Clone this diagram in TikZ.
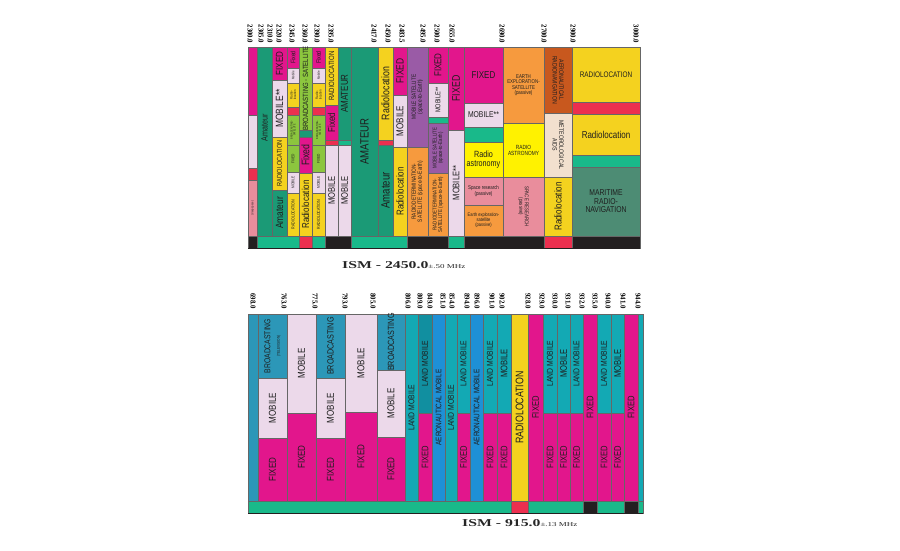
\documentclass[tikz,border=0pt]{standalone}
\usepackage{fontspec}
\newfontfamily\nar[FakeStretch=0.8]{Liberation Sans}
\newfontfamily\frqf[FakeStretch=0.9]{Liberation Serif}
\newfontfamily\ismf[FakeStretch=1.5]{Liberation Serif}
\definecolor{fixc}{HTML}{E2168C}
\definecolor{mobc}{HTML}{ECD9EA}
\definecolor{amc}{HTML}{1B9A76}
\definecolor{stc}{HTML}{19B98A}
\definecolor{redc}{HTML}{EC2F4F}
\definecolor{yelc}{HTML}{F4D21F}
\definecolor{ylwc}{HTML}{FFF200}
\definecolor{pinkc}{HTML}{E98D9C}
\definecolor{orgc}{HTML}{F69A3E}
\definecolor{purc}{HTML}{9A5BA6}
\definecolor{brnc}{HTML}{C8581E}
\definecolor{beic}{HTML}{F2E0CE}
\definecolor{marc}{HTML}{4D8C74}
\definecolor{grnc}{HTML}{8CC63E}
\definecolor{bcc}{HTML}{2C97B8}
\definecolor{lmc}{HTML}{13A9B4}
\definecolor{lmdc}{HTML}{118FA0}
\definecolor{aerc}{HTML}{1E90D6}
\definecolor{blkc}{HTML}{231F20}
\definecolor{txtc}{HTML}{1E1E1E}
\tikzset{
  cell/.style={draw=black!60, line width=0.35pt},
  lab/.style={text=txtc, align=center, inner sep=0pt, font=\nar\fontsize{9}{9}\selectfont},
  fs/.style={font=\nar\fontsize{#1}{#1}\selectfont},
  up/.style={rotate=90},
  dn/.style={rotate=-90},
  frq/.style={rotate=-90, text=black, inner sep=0pt, font=\frqf\bfseries\fontsize{7.5}{7.5}\selectfont},
  ism/.style={anchor=west, text=black!85, inner sep=0pt, font=\ismf\bfseries\fontsize{10.5}{10.5}\selectfont},
}
\newcommand\Cl[7]{%
  \filldraw[cell,fill=#5] (#1,#2) rectangle (#3,#4);
  \node[lab,#7] at ({(#1+#3)/2},{(#2+#4)/2}) {#6};}
\begin{document}
\begin{tikzpicture}[x=1pt,y=-1pt]
\useasboundingbox (0,0) rectangle (900,550);
% ================= TOP CHART =================
% col1
\Cl{248}{47}{257}{115}{fixc}{}{}
\Cl{248}{115}{257}{168}{mobc}{}{}
\Cl{248}{168}{257}{180}{redc}{}{}
\Cl{248}{180}{257}{236}{pinkc}{(deep space)}{up,fs=3}
% col2
\Cl{257}{47}{272}{236}{amc}{}{}
\node[lab,up,fs=9] at (264.5,128) {Amateur};
% col3
\Cl{272}{47}{287}{80}{fixc}{FIXED}{up,fs=10}
\Cl{272}{80}{287}{137}{mobc}{MOBILE**}{up,fs=10.5}
\Cl{272}{137}{287}{190}{yelc}{RADIOLOCATION}{up,fs=7}
\Cl{272}{190}{287}{236}{amc}{Amateur}{up,fs=10.5}
% col4
\Cl{287}{47}{299}{68}{fixc}{Fixed}{up,fs=6.5}
\Cl{287}{68}{299}{83}{mobc}{Mobile}{up,fs=3.5}
\Cl{287}{83}{299}{107}{yelc}{Radio-\\location}{up,fs=3.5}
\Cl{287}{107}{299}{115}{redc}{}{}
\Cl{287}{115}{299}{145}{grnc}{BROADCASTING-\\SATELLITE}{up,fs=2.8}
\Cl{287}{145}{299}{172}{grnc}{FIXED}{up,fs=4}
\Cl{287}{172}{299}{193}{mobc}{MOBILE}{up,fs=4}
\Cl{287}{193}{299}{236}{yelc}{RADIOLOCATION}{up,fs=4.5}
% col5
\Cl{299}{47}{312}{130}{grnc}{BROADCASTING - SATELLITE}{up,fs=7.5}
\Cl{299}{130}{312}{137}{amc}{}{}
\Cl{299}{137}{312}{173}{fixc}{Fixed}{up,fs=11}
\Cl{299}{173}{312}{236}{yelc}{Radiolocation}{up,fs=10}
% col6
\Cl{312}{47}{325}{68}{fixc}{Fixed}{up,fs=6.5}
\Cl{312}{68}{325}{83}{mobc}{Mobile}{up,fs=3.5}
\Cl{312}{83}{325}{107}{yelc}{Radio-\\location}{up,fs=3.5}
\Cl{312}{107}{325}{115}{redc}{}{}
\Cl{312}{115}{325}{145}{grnc}{BROADCASTING-\\SATELLITE}{up,fs=2.8}
\Cl{312}{145}{325}{172}{grnc}{FIXED}{up,fs=4}
\Cl{312}{172}{325}{193}{mobc}{MOBILE}{up,fs=4}
\Cl{312}{193}{325}{236}{yelc}{RADIOLOCATION}{up,fs=4.5}
% col7
\Cl{325}{47}{338}{105}{yelc}{RADIOLOCATION}{up,fs=7.5}
\Cl{325}{105}{338}{140}{fixc}{Fixed}{up,fs=10}
\Cl{325}{140}{338}{145}{redc}{}{}
\Cl{325}{145}{338}{236}{mobc}{MOBILE}{up,fs=9.5}
% col8
\Cl{338}{47}{351}{140}{amc}{AMATEUR}{up,fs=10}
\Cl{338}{140}{351}{145}{stc}{}{}
\Cl{338}{145}{351}{236}{mobc}{MOBILE}{up,fs=9.5}
% col9
\Cl{351}{47}{378}{236}{amc}{AMATEUR}{up,fs=12}
% col10
\Cl{378}{47}{393}{140}{yelc}{Radiolocation}{up,fs=11}
\Cl{378}{140}{393}{145}{redc}{}{}
\Cl{378}{145}{393}{236}{amc}{Amateur}{up,fs=12}
% col11
\Cl{393}{47}{407}{95}{fixc}{FIXED}{up,fs=10.5}
\Cl{393}{95}{407}{147}{mobc}{MOBILE}{up,fs=10}
\Cl{393}{147}{407}{236}{yelc}{Radiolocation}{up,fs=10}
% col12
\Cl{407}{47}{428}{147}{purc}{MOBILE SATELLITE\\(space-to-Earth)}{up,fs=6}
\Cl{407}{147}{428}{236}{orgc}{RADIODETERMINATION-\\SATELLITE (space-to-Earth)}{up,fs=6}
% col13
\Cl{428}{47}{448}{83}{fixc}{FIXED}{up,fs=10}
\Cl{428}{83}{448}{117}{mobc}{MOBILE**}{up,fs=7}
\Cl{428}{117}{448}{123}{stc}{}{}
\Cl{428}{123}{448}{173}{purc}{MOBILE SATELLITE\\(space-to-Earth)}{up,fs=5.5}
\Cl{428}{173}{448}{236}{orgc}{RADIODETERMINATION-\\SATELLITE (space-to-Earth)}{up,fs=5.5}
% col14
\Cl{448}{47}{464}{130}{fixc}{FIXED}{up,fs=11}
\Cl{448}{130}{464}{236}{mobc}{MOBILE**}{up,fs=9.5}
% col15
\Cl{464}{47}{503}{103}{fixc}{FIXED}{fs=10}
\Cl{464}{103}{503}{127}{mobc}{MOBILE**}{fs=8.5}
\Cl{464}{127}{503}{142}{stc}{}{}
\Cl{464}{142}{503}{177}{ylwc}{Radio\\astronomy}{fs=9}
\Cl{464}{177}{503}{205}{pinkc}{Space research\\(passive)}{fs=5.5}
\Cl{464}{205}{503}{236}{orgc}{Earth exploration-\\satellite\\(passive)}{fs=5}
% col16
\Cl{503}{47}{544}{123}{orgc}{EARTH\\EXPLORATION-\\SATELLITE\\(passive)}{fs=5.5}
\Cl{503}{123}{544}{177}{ylwc}{RADIO\\ASTRONOMY}{fs=6}
\Cl{503}{177}{544}{236}{pinkc}{SPACE RESEARCH\\(passive)}{dn,fs=5.5}
% col17
\Cl{544}{47}{572}{113}{brnc}{AERONAUTICAL\\RADIONAVIGATION}{dn,fs=6.5}
\Cl{544}{113}{572}{177}{beic}{METEOROLOGICAL\\AIDS}{dn,fs=6.5}
\Cl{544}{177}{572}{236}{yelc}{Radiolocation}{up,fs=10}
% col18
\Cl{572}{47}{640}{102}{yelc}{RADIOLOCATION}{fs=8}
\Cl{572}{102}{640}{114}{redc}{}{}
\Cl{572}{114}{640}{155}{yelc}{Radiolocation}{fs=10}
\Cl{572}{155}{640}{167}{stc}{}{}
\Cl{572}{167}{640}{236}{marc}{MARITIME\\RADIO-\\NAVIGATION}{fs=8.5}
% strip
\Cl{248}{236}{257}{248}{blkc}{}{}
\Cl{257}{236}{299}{248}{stc}{}{}
\Cl{299}{236}{312}{248}{redc}{}{}
\Cl{312}{236}{325}{248}{stc}{}{}
\Cl{325}{236}{351}{248}{blkc}{}{}
\Cl{351}{236}{407}{248}{stc}{}{}
\Cl{407}{236}{448}{248}{blkc}{}{}
\Cl{448}{236}{464}{248}{stc}{}{}
\Cl{464}{236}{544}{248}{blkc}{}{}
\Cl{544}{236}{572}{248}{redc}{}{}
\Cl{572}{236}{640}{248}{blkc}{}{}
\draw[blkc, line width=1pt] (248,248.5) -- (640,248.5);
% frequency labels top
\foreach \x/\t in {250/2300.0,261/2305.0,270/2310.0,279/2320.0,292/2345.0,305/2360.0,317/2390.0,331/2395.0,374/2417.0,388/2450.0,402/2483.5,423/2495.0,437/2500.0,452/2655.0,502/2690.0,544/2700.0,573/2900.0,636/3000.0}
  \node[frq] at (\x,34) {\t};
\node[ism] at (342,265) {ISM - 2450.0{\mdseries\fontsize{6}{6}\selectfont±.50 MHz}};
% ================= BOTTOM CHART =================
\Cl{248}{314}{258}{501}{bcc}{}{}
\Cl{258}{314}{287}{378}{bcc}{BROADCASTING\\[1pt]{\fontsize{4}{4}\selectfont(TELEVISION)}}{up,fs=8.5}
\Cl{258}{378}{287}{438}{mobc}{MOBILE}{up,fs=10}
\Cl{258}{438}{287}{501}{fixc}{FIXED}{up,fs=10}
\Cl{287}{314}{316}{413}{mobc}{MOBILE}{up,fs=10}
\Cl{287}{413}{316}{501}{fixc}{FIXED}{up,fs=10}
\Cl{316}{314}{345}{378}{bcc}{BROADCASTING}{up,fs=9}
\Cl{316}{378}{345}{438}{mobc}{MOBILE}{up,fs=10}
\Cl{316}{438}{345}{501}{fixc}{FIXED}{up,fs=10}
\Cl{345}{314}{377}{412}{mobc}{MOBILE}{up,fs=10}
\Cl{345}{412}{377}{501}{fixc}{FIXED}{up,fs=10}
\Cl{377}{314}{405}{370}{bcc}{BROADCASTING}{up,fs=9}
\Cl{377}{370}{405}{437}{mobc}{MOBILE}{up,fs=10}
\Cl{377}{437}{405}{501}{fixc}{FIXED}{up,fs=10}
\Cl{405}{314}{418}{501}{lmc}{LAND MOBILE}{up,fs=8.5}
\Cl{418}{314}{432}{413}{lmdc}{LAND MOBILE}{up,fs=8.5}
\Cl{418}{413}{432}{501}{fixc}{FIXED}{up,fs=9.5}
\Cl{432}{314}{445}{501}{aerc}{AERONAUTICAL MOBILE}{up,fs=8}
\Cl{445}{314}{457}{501}{lmc}{LAND MOBILE}{up,fs=8.5}
\Cl{457}{314}{470}{413}{lmc}{LAND MOBILE}{up,fs=8.5}
\Cl{457}{413}{470}{501}{fixc}{FIXED}{up,fs=9.5}
\Cl{470}{314}{483}{501}{aerc}{AERONAUTICAL MOBILE}{up,fs=8}
\Cl{483}{314}{497}{413}{lmc}{LAND MOBILE}{up,fs=8.5}
\Cl{483}{413}{497}{501}{fixc}{FIXED}{up,fs=9.5}
\Cl{497}{314}{511}{413}{lmc}{MOBILE}{up,fs=9.5}
\Cl{497}{413}{511}{501}{fixc}{FIXED}{up,fs=9.5}
\Cl{511}{314}{528}{501}{yelc}{RADIOLOCATION}{up,fs=11}
\Cl{528}{314}{543}{501}{fixc}{FIXED}{up,fs=9.5}
\Cl{543}{314}{557}{413}{lmc}{LAND MOBILE}{up,fs=8.5}
\Cl{543}{413}{557}{501}{fixc}{FIXED}{up,fs=9.5}
\Cl{557}{314}{570}{413}{lmc}{MOBILE}{up,fs=9.5}
\Cl{557}{413}{570}{501}{fixc}{FIXED}{up,fs=9.5}
\Cl{570}{314}{583}{413}{lmc}{LAND MOBILE}{up,fs=8.5}
\Cl{570}{413}{583}{501}{fixc}{FIXED}{up,fs=9.5}
\Cl{583}{314}{597}{501}{fixc}{FIXED}{up,fs=9.5}
\Cl{597}{314}{611}{413}{lmc}{LAND MOBILE}{up,fs=8.5}
\Cl{597}{413}{611}{501}{fixc}{FIXED}{up,fs=9.5}
\Cl{611}{314}{624}{413}{lmc}{MOBILE}{up,fs=9.5}
\Cl{611}{413}{624}{501}{fixc}{FIXED}{up,fs=9.5}
\Cl{624}{314}{638}{501}{fixc}{FIXED}{up,fs=9.5}
\Cl{638}{314}{643}{501}{lmc}{}{}
% strip
\Cl{248}{501}{511}{513}{stc}{}{}
\Cl{511}{501}{528}{513}{redc}{}{}
\Cl{528}{501}{583}{513}{stc}{}{}
\Cl{583}{501}{597}{513}{blkc}{}{}
\Cl{597}{501}{624}{513}{stc}{}{}
\Cl{624}{501}{638}{513}{blkc}{}{}
\Cl{638}{501}{643}{513}{stc}{}{}
\draw[blkc, line width=1pt] (248,513.5) -- (643,513.5);
% frequency labels bottom
\foreach \x/\t in {253/698.0,284/763.0,315/775.0,345/793.0,373/805.0,408/806.0,420/809.0,430/849.0,443/851.0,452/854.0,467/894.0,477/896.0,492/901.0,502/902.0,528/928.0,542/929.0,555/930.0,568/931.0,582/932.0,595/935.0,608/940.0,623/941.0,638/944.0}
  \node[frq] at (\x,301) {\t};
\node[ism] at (462,523) {ISM - 915.0{\mdseries\fontsize{6}{6}\selectfont±.13 MHz}};
\end{tikzpicture}
\end{document}
